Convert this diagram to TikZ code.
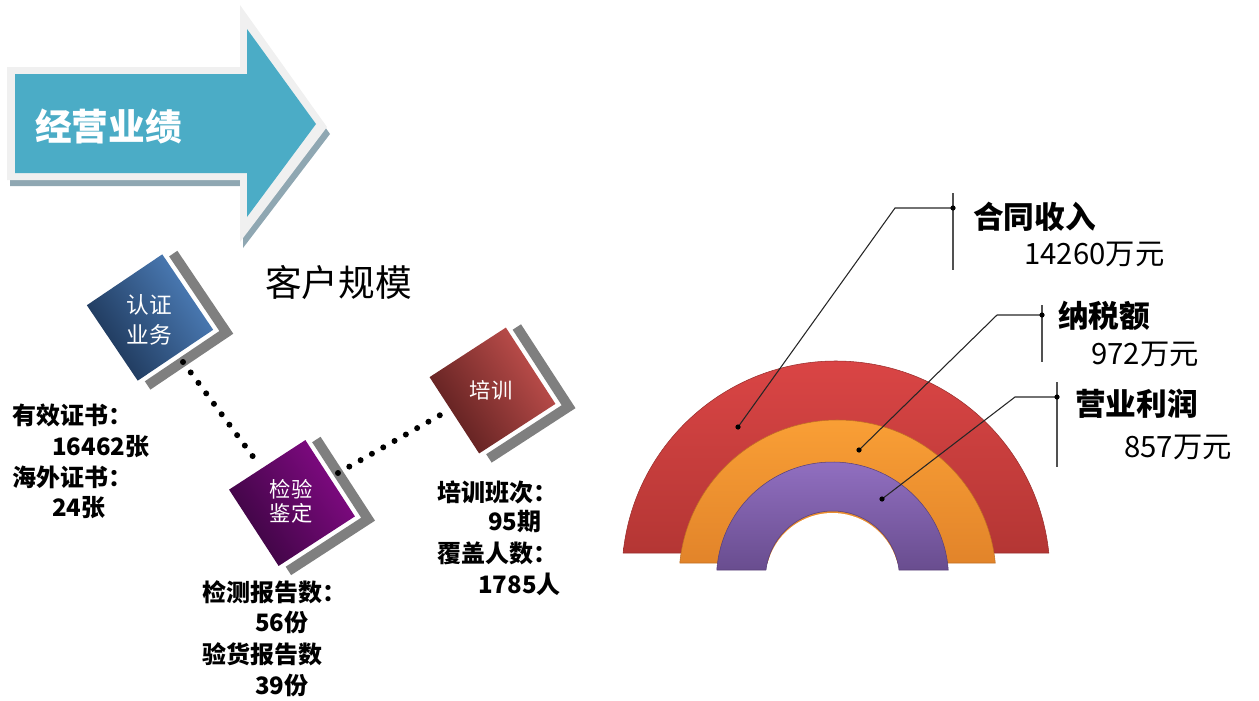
\documentclass[tikz,border=0pt]{standalone}
\usepackage{fontspec}
\setmainfont{Noto Sans CJK SC}
\definecolor{arrowblue}{HTML}{4BACC6}
\definecolor{arrowrim}{HTML}{F0F0F0}
\definecolor{arrowshadow}{HTML}{8FA7B2}
\definecolor{sqgray}{HTML}{7F7F7F}
\definecolor{blueL}{HTML}{4F81BD}
\definecolor{blueD}{HTML}{1B3354}
\definecolor{purL}{HTML}{840A86}
\definecolor{purD}{HTML}{3A0540}
\definecolor{redL}{HTML}{C4514E}
\definecolor{redD}{HTML}{5A1E1E}
\definecolor{rbRedT}{HTML}{DC4646}
\definecolor{rbRedB}{HTML}{B43634}
\definecolor{rbOrT}{HTML}{FAA036}
\definecolor{rbOrB}{HTML}{E2842A}
\definecolor{rbPuT}{HTML}{9270C2}
\definecolor{rbPuB}{HTML}{694D8F}
\definecolor{leader}{HTML}{262626}
\newcommand\tilecard[6]{%
  \begin{scope}[shift={(#1,#2)},rotate=#3]
    \fill[sqgray] (50,-40) -- (60,-40) -- (60,60) -- (-40,60) -- (-40,50) -- (50,50) -- cycle;
    \shade[top color=#4,bottom color=#5,shading angle=-56] (-45.5,-45.5) rectangle (45.5,45.5);
    \coordinate (#6) at (0,0);
  \end{scope}}
\tikzset{
  dotline/.style={line width=4.5pt,dash pattern=on 0pt off 9.75pt,line cap=round},
  txt/.style={inner sep=0pt,anchor=west,font=\fontsize{18pt}{20pt}\selectfont\bfseries},
  tiletxt/.style={inner sep=0pt,align=center,text=white},
  calname/.style={inner sep=0pt,anchor=west,font=\fontsize{23pt}{25pt}\selectfont\bfseries},
  calval/.style={inner sep=0pt,anchor=west,font=\fontsize{22pt}{24pt}\selectfont},
  leadline/.style={draw=leader,line width=0.8pt},
  vbar/.style={draw=leader!80,line width=0.8pt},
  ldot/.style={fill=black}
}
\begin{document}
\begin{tikzpicture}[x=0.75pt,y=-0.75pt]
\useasboundingbox (0,0) rectangle (1259,700);
% ---------- arrow ----------
\fill[arrowshadow] (10,73) -- (243,73) -- (243,11) -- (330,134) -- (243,248) -- (243,186) -- (10,186) -- cycle;
\fill[arrowrim] (7,67) -- (240,67) -- (240,5) -- (327,127) -- (240,242) -- (240,180) -- (7,180) -- cycle;
\fill[arrowblue] (15,74) -- (247,74) -- (247,29) -- (316,124) -- (247,217) -- (247,173) -- (15,173) -- cycle;
\node[inner sep=0pt,anchor=west,text=white,font=\fontsize{27.5pt}{30pt}\selectfont\bfseries] (title) at (35,126) {经营业绩};
% ---------- tiles ----------
\tilecard{150}{317.5}{34}{blueL}{blueD}{rz}
\tilecard{292}{503}{33}{purL}{purD}{jy}
\tilecard{492.5}{390.5}{33}{redL}{redD}{px}
\node[tiletxt,font=\fontsize{17pt}{22.5pt}\selectfont] (rzt) at (149,320) {认证\\业务};
\node[tiletxt,font=\fontsize{16pt}{18pt}\selectfont] (jyt) at (291,501) {检验\\鉴定};
\node[tiletxt,font=\fontsize{16pt}{18pt}\selectfont] (pxt) at (491,390) {培训};
\node[inner sep=0pt,anchor=west,font=\fontsize{27.5pt}{30pt}\selectfont] (khgm) at (265,283) {客户规模};
% dotted connectors
\coordinate (d1a) at (183,362);
\coordinate (d1b) at (257,462);
\coordinate (d2a) at (338,473);
\coordinate (d2b) at (442,414);
\draw[dotline] (d1a) -- (d1b);
\draw[dotline] (d2a) -- (d2b);
% ---------- left texts ----------
\node[txt] (l1) at (12,415) {有效证书：};
\node[txt] (l2) at (52,447) {16462张};
\node[txt] (l3) at (12,477) {海外证书：};
\node[txt] (l4) at (52,508) {24张};
\node[txt] (m1) at (202,592) {检测报告数：};
\node[txt] (m2) at (255,622) {56份};
\node[txt] (m3) at (202,654) {验货报告数};
\node[txt] (m4) at (255,685) {39份};
\node[txt] (r1) at (437,492) {培训班次：};
\node[txt] (r2) at (488,522) {95期};
\node[txt] (r3) at (437,553) {覆盖人数：};
\node[txt] (r4) at (478,584) {1785人};
% ---------- rainbow ----------
\shade[top color=rbRedT,bottom color=rbRedB,draw=rbRedB!85!black,line width=0.4pt]
  (623.1,553) arc[start angle=185.9,end angle=354.1,radius=214] -- cycle;
\shade[top color=rbOrT,bottom color=rbOrB,draw=rbOrB!85!black,line width=0.4pt]
  (679.8,563) arc[start angle=185.61,end angle=354.39,radius=158.5] -- cycle;
\fill[white] (766,572) arc[start angle=186.86,end angle=353.14,radius=67] -- (899,572) -- cycle;
\shade[top color=rbPuT,bottom color=rbPuB,draw=rbPuB!85!black,line width=0.4pt]
  (716.8,570) arc[start angle=183.95,end angle=356.05,radius=116] -- (899,570)
  arc[start angle=353.14,end angle=186.86,radius=67] -- cycle;
% ---------- callouts ----------
\coordinate (c1p) at (738,427);
\coordinate (c1k) at (895,208);
\coordinate (c1e) at (953,208);
\coordinate (c1t) at (953,193);
\coordinate (c1b) at (953,270);
\coordinate (c2p) at (859,450);
\coordinate (c2k) at (997,315);
\coordinate (c2e) at (1042,315);
\coordinate (c2t) at (1042,305);
\coordinate (c2b) at (1042,362);
\coordinate (c3p) at (882,499);
\coordinate (c3k) at (1015,397);
\coordinate (c3e) at (1057,397);
\coordinate (c3t) at (1057,382);
\coordinate (c3b) at (1057,467);
\draw[vbar] (c1t) -- (c1b);
\draw[vbar] (c2t) -- (c2b);
\draw[vbar] (c3t) -- (c3b);
\draw[leadline] (c1p) -- (c1k) -- (c1e);
\draw[leadline] (c2p) -- (c2k) -- (c2e);
\draw[leadline] (c3p) -- (c3k) -- (c3e);
\foreach \p in {c1p,c1e,c2p,c2e,c3p,c3e} \fill[ldot] (\p) circle[radius=2.6];
\node[calname] (n1) at (973,217) {合同收入};
\node[calval] (v1) at (1024,254) {14260万元};
\node[calname] (n2) at (1058,316) {纳税额};
\node[calval] (v2) at (1091,354) {972万元};
\node[calname] (n3) at (1075,404) {营业利润};
\node[calval] (v3) at (1124,447) {857万元};
\end{tikzpicture}
\end{document}
